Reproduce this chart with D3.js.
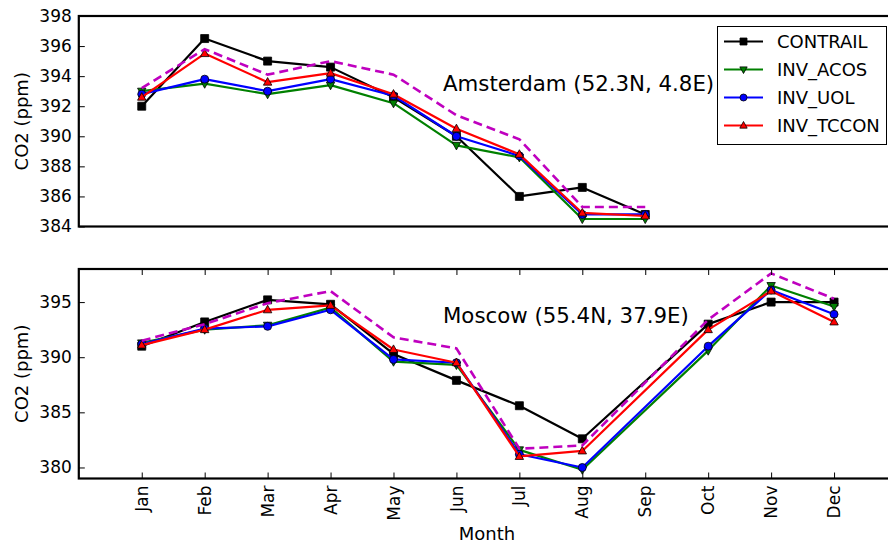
<!DOCTYPE html>
<html><head><meta charset="utf-8">
<script src="https://cdn.jsdelivr.net/npm/d3@7"></script>
<style>
html,body{margin:0;padding:0;background:#fff;}
svg{display:block;font-family:"DejaVu Sans",sans-serif;}
</style></head>
<body>
<svg id="chart" width="888" height="547"></svg>
<script>
const months = ["Jan","Feb","Mar","Apr","May","Jun","Jul","Aug","Sep","Oct","Nov","Dec"];
const seriesNames = ["CONTRAIL","INV_ACOS","INV_UOL","INV_TCCON"];
const seriesColors = ["#000000","#008000","#0000ff","#ff0000"];
const seriesMarkers = ["square","triDown","circle","triUp"];
const priorColor = "#bf00bf";

// Amsterdam (Jan–Sep)
const amsContrail = [392.0, 396.5, 395.0, 394.6, 392.6, 390.0, 386.0, 386.6, 384.8];
const amsAcos     = [393.0, 393.5, 392.8, 393.4, 392.2, 389.4, 388.6, 384.5, 384.5];
const amsUol      = [392.8, 393.8, 393.0, 393.8, 392.7, 390.0, 388.7, 384.8, 384.8];
const amsTccon    = [392.6, 395.5, 393.6, 394.2, 392.8, 390.5, 388.8, 384.9, 384.7];
const amsPrior    = [393.2, 395.8, 394.1, 395.0, 394.1, 391.4, 389.8, 385.3, 385.3];

// Moscow (no September value)
const mosContrail = [391.0, 393.2, 395.2, 394.8, 390.3, 387.9, 385.6, 382.6, null, 393.0, 395.0, 395.0];
const mosAcos     = [391.3, 392.5, 392.9, 394.5, 389.6, 389.3, 381.6, 379.8, null, 390.6, 396.5, 394.6];
const mosUol      = [391.2, 392.6, 392.8, 394.3, 389.8, 389.5, 381.2, 380.0, null, 391.0, 396.1, 393.9];
const mosTccon    = [391.1, 392.5, 394.3, 394.7, 390.7, 389.5, 381.0, 381.5, null, 392.5, 396.0, 393.2];
const mosPrior    = [391.5, 393.0, 394.9, 396.0, 391.8, 390.8, 381.7, 382.0, null, 393.4, 397.6, 395.3];

const amsTicks = [384,386,388,390,392,394,396,398];
const mosTicks = [380,385,390,395];

const svg = d3.select("#chart");
const x = d3.scaleLinear().domain([0,13]).range([78.8, 897]);

function markerPath(type, size){
  const s = size/2;
  if(type==="square") return `M${-s},${-s}H${s}V${s}H${-s}Z`;
  if(type==="triUp") return `M0,${-s*1.15}L${s*1.05},${s*0.75}L${-s*1.05},${s*0.75}Z`;
  if(type==="triDown") return `M0,${s*1.15}L${s*1.05},${-s*0.75}L${-s*1.05},${-s*0.75}Z`;
  return d3.symbol(d3.symbolCircle, Math.PI*s*s)();
}

function panel(top, bottom, domain, ticks, data, showXLabels, label, labelY){
  const y = d3.scaleLinear().domain(domain).range([bottom, top]);
  const g = svg.append("g");
  const line = d3.line().x(d=>x(d.m)).y(d=>y(d.v));
  const toPts = arr => arr.map((v,i)=>({m:i+1,v})).filter(d=>d.v!==null);

  data.series.forEach((arr,k)=>{
    const pts = toPts(arr);
    g.append("path").datum(pts).attr("d",line)
      .attr("fill","none").attr("stroke",seriesColors[k]).attr("stroke-width",2.2)
      .attr("stroke-linejoin","round");
    g.selectAll(null).data(pts).enter().append("path")
      .attr("d",markerPath(seriesMarkers[k], 8))
      .attr("transform",d=>`translate(${x(d.m)},${y(d.v)})`)
      .attr("fill",seriesColors[k]).attr("stroke","#000").attr("stroke-width",0.8);
  });
  g.append("path").datum(toPts(data.prior)).attr("d",line)
    .attr("fill","none").attr("stroke",priorColor).attr("stroke-width",2.6)
    .attr("stroke-dasharray","9,5");

  // y axis (inward ticks)
  const ya = g.append("g").attr("transform",`translate(${x(0)},0)`)
    .call(d3.axisLeft(y).tickValues(ticks).tickSizeInner(-6).tickSizeOuter(0).tickPadding(7).tickFormat(d3.format("d")));
  ya.select(".domain").remove();
  ya.selectAll("text").attr("font-size",17).attr("font-family","DejaVu Sans").attr("fill","#000");
  ya.selectAll("line").attr("stroke","#000");

  if(showXLabels){
    const xb = g.append("g").attr("transform",`translate(0,${bottom})`)
      .call(d3.axisBottom(x).tickValues(d3.range(1,13)).tickSizeInner(-6).tickSizeOuter(0).tickFormat(""));
    xb.select(".domain").remove();
    xb.selectAll("line").attr("stroke","#000");
    const xt = g.append("g").attr("transform",`translate(0,${top})`)
      .call(d3.axisTop(x).tickValues(d3.range(1,13)).tickSizeInner(-6).tickSizeOuter(0).tickFormat(""));
    xt.select(".domain").remove();
    xt.selectAll("line").attr("stroke","#000");
    g.selectAll(null).data(months).enter().append("text")
      .attr("transform",(d,i)=>`translate(${x(i+1)},${bottom+7}) rotate(-90)`)
      .attr("text-anchor","end").attr("dy","0.36em")
      .attr("font-size",17).text(d=>d);
  }

  // frame
  g.append("rect").attr("x",x(0)).attr("y",top).attr("width",x(13)-x(0)).attr("height",bottom-top)
    .attr("fill","none").attr("stroke","#000").attr("stroke-width",2.2);

  g.append("text").attr("transform",`translate(28,${(top+bottom)/2}) rotate(-90)`)
    .attr("text-anchor","middle").attr("font-size",18).text("CO2 (ppm)");

  g.append("text").attr("x",443).attr("y",labelY).attr("font-size",21.3).text(label);
  return y;
}

panel(16, 226.5, [384,398], amsTicks,
  {series:[amsContrail, amsAcos, amsUol, amsTccon], prior: amsPrior},
  false, "Amsterdam (52.3N, 4.8E)", 90.5);
panel(269, 478.5, [379,398], mosTicks,
  {series:[mosContrail, mosAcos, mosUol, mosTccon], prior: mosPrior},
  true, "Moscow (55.4N, 37.9E)", 323);

svg.append("text").attr("x",487).attr("y",540).attr("text-anchor","middle")
  .attr("font-size",18).text("Month");

// legend
const lg = svg.append("g");
lg.append("rect").attr("x",717.5).attr("y",26.5).attr("width",169).attr("height",118)
  .attr("fill","#fff").attr("stroke","#000").attr("stroke-width",1);
seriesNames.forEach((n,k)=>{
  const yy = 41.5 + k*28;
  lg.append("line").attr("x1",724).attr("x2",763).attr("y1",yy).attr("y2",yy)
    .attr("stroke",seriesColors[k]).attr("stroke-width",2.2);
  lg.append("path").attr("d",markerPath(seriesMarkers[k],7)).attr("transform",`translate(743.5,${yy})`)
    .attr("fill",seriesColors[k]).attr("stroke","#000").attr("stroke-width",0.8);
  lg.append("text").attr("x",777).attr("y",yy).attr("dy","0.36em").attr("font-size",18).text(n);
});
</script>
</body></html>
